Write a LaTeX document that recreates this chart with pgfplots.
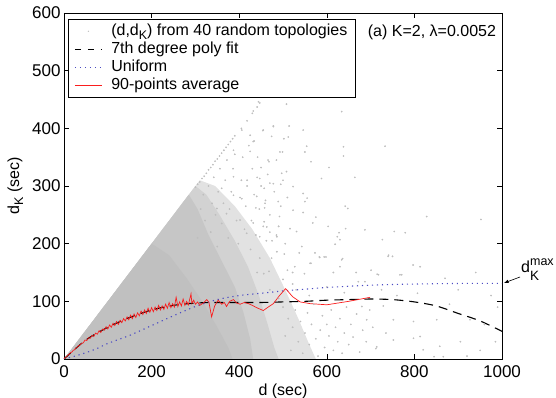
\documentclass[border=0pt]{standalone}
\usepackage{fontspec}
\setmainfont{Liberation Sans}
\usepackage{pgfplots}
\pgfplotsset{compat=1.18}
\definecolor{scgray}{RGB}{190,190,190}
\definecolor{gA}{RGB}{192,192,192}
\definecolor{gB}{RGB}{198,198,198}
\definecolor{gC}{RGB}{210,210,210}
\definecolor{gD}{RGB}{226,226,226}
\definecolor{unifblue}{RGB}{75,75,195}
\definecolor{avgred}{RGB}{250,30,30}
\newcommand{\subK}{\raisebox{-4pt}{\fontsize{12.5}{12.5}\selectfont K}}
\begin{document}
\fontsize{16}{19}\selectfont
\begin{tikzpicture}
\begin{axis}[name=ax, scale only axis, width=438pt, height=346pt,
  xmin=0, xmax=1000, ymin=0, ymax=600,
  xtick={0,200,...,1000}, ytick={0,100,...,600},
  tick align=inside, tick pos=both, major tick length=5pt,
  axis line style={line width=0.8pt}, tick style={line width=0.6pt, black},
  /pgf/number format/assume math mode=true,
  /pgf/number format/1000 sep={},
  tick label style={font=\fontsize{17}{20}\selectfont},
  xticklabel style={yshift=-1pt},
  yticklabel style={xshift=2pt},
  xlabel={d (sec)}, ylabel={d\subK{} (sec)},
  label style={font=\fontsize{16}{19}\selectfont},
  xlabel style={yshift=5pt}, ylabel style={yshift=-2pt},
  legend cell align=left,
  legend style={at={(0.009,0.983)}, anchor=north west, draw=black, line width=0.8pt,
    inner xsep=6pt, inner ysep=3pt, row sep=0pt,
    font=\fontsize{16}{19.5}\selectfont},
]
% legend
\addlegendimage{legend image code/.code={\fill[fill=scgray, draw=none] (13.5pt,0pt) circle (0.65pt); \path (0pt,0pt) (34pt,0pt);}}
\addlegendentry{(d,d\subK) from 40 random topologies}
\addlegendimage{legend image code/.code={\draw[draw=black, line width=1.1pt, dash pattern=on 6pt off 7pt] (0pt,0pt) -- (27pt,0pt); \path (34pt,0pt);}}
\addlegendentry{7th degree poly fit}
\addlegendimage{legend image code/.code={\draw[draw=unifblue, line width=1.1pt, dash pattern=on 1.2pt off 3.8pt] (0pt,0pt) -- (27pt,0pt); \path (34pt,0pt);}}
\addlegendentry{Uniform}
\addlegendimage{legend image code/.code={\draw[draw=avgred, line width=0.7pt] (0pt,0pt) -- (27pt,0pt); \path (34pt,0pt);}}
\addlegendentry{90-points average}
% density of the overlapping scatter (many thousands of points)
\addplot[fill=gD, draw=none, forget plot] coordinates {(0,0) (310,310) (345,300) (390,265) (430,225) (470,175) (505,120) (535,70) (560,25) (575,0)} \closedcycle;
\addplot[fill=gC, draw=none, forget plot] coordinates {(0,0) (300,300) (325,285) (355,250) (390,205) (420,160) (445,110) (465,60) (480,20) (490,0)} \closedcycle;
\addplot[fill=gB, draw=none, forget plot] coordinates {(0,0) (285,285) (305,260) (330,215) (360,170) (390,125) (410,80) (425,35) (432,0)} \closedcycle;
\addplot[fill=gA, draw=none, forget plot] coordinates {(0,0) (200,200) (240,180) (280,140) (320,95) (350,55) (375,20) (385,0)} \closedcycle;
% scattered points
\addplot[only marks, mark=*, mark size=0.65pt, color=scgray, forget plot]
coordinates {
(300,298) (305,303) (310,307) (315,313) (320,317) (325,322) (330,328) (335,332) (340,337) (345,343) (350,347) (355,352)
(360,357) (365,362) (370,367) (375,372) (380,377) (385,382) (390,387) (405,400) (418,413) (430,426) (441,437) (447,444)
(406,397) (425,388) (455,397) (478,403) (432,377) (387,362) (425,360) (466,345) (493,359) (387,316) (418,310) (447,313)
(478,304) (523,299) (360,296) (387,284) (406,278) (440,282) (459,270) (489,273) (523,258) (546,254) (349,261) (371,252)
(402,241) (432,236) (463,229) (486,212) (531,221) (417,218) (447,212)
(305,210) (312,260) (318,285) (322,240) (330,300) (335,220) (338,270) (342,315) (346,250) (350,195) (352,290) (356,330)
(360,235) (364,270) (368,310) (372,345) (375,210) (378,260) (382,290) (386,330) (390,355) (394,240) (398,200) (402,280)
(405,310) (408,350) (412,225) (415,265) (418,300) (422,370) (426,190) (428,240) (430,330) (434,285) (438,215) (442,350)
(446,260) (450,300) (455,230) (460,275) (465,320) (470,250) (475,205) (480,290) (485,345) (490,230) (495,265) (500,310)
(505,200) (510,280)
(444,446) (508,442) (432,430) (634,429) (478,404) (514,404) (454,396) (546,397) (474,386) (502,382) (512,385) (434,378)
(554,369) (733,369) (638,368) (499,359) (550,359) (638,352) (468,342) (564,342) (605,332) (450,332) (508,325) (497,322)
(588,313) (664,315) (441,315) (470,305) (457,296) (495,303) (546,287) (555,279) (550,273) (642,265) (648,261) (438,262)
(458,262) (575,246) (492,247)
(516,226) (568,236) (603,230) (643,226) (628,219) (624,212) (630,207) (543,195) (537,184) (583,177) (594,177) (564,166)
(527,160) (510,154) (474,175) (486,186) (503,182) (447,175) (634,172) (630,160) (615,150) (667,150) (718,146) (441,150)
(456,148) (468,152) (522,150) (549,148) (500,138) (522,130) (687,134) (457,238) (470,220) (485,215) (462,205) (490,230)
(619,199) (573,184) (598,177) (584,176) (636,174) (562,166) (530,120) (560,110) (600,125) (640,115) (470,120) (490,105)
(500,90) (505,40) (512,70) (518,15) (522,55) (528,85) (535,30) (540,65) (545,10) (550,45) (556,80) (560,25) (565,60)
(570,95) (575,35) (580,5) (585,50) (590,75) (595,20) (600,60) (605,40) (610,85) (615,15) (620,55) (625,30) (630,70)
(635,10) (640,45) (645,90) (650,25) (655,60) (660,38) (668,78) (675,12) (682,50) (690,30) (698,85) (705,55) (712,18)
(680,91) (729,92) (691,68) (752,68) (798,65) (851,68) (927,68) (752,33) (714,21) (798,36) (813,39) (858,22) (866,4)
(820,16) (845,4) (920,5) (740,178) (797,163) (813,160) (767,146) (672,134) (701,154) (715,147) (741,180) (750,178)
(771,146) (807,114) (828,247) (952,242) (754,221) (779,219) (727,207) (687,224) (960,60) (985,30) (900,120) (880,95)
(940,150) (975,110) (760,110) (735,45) (870,140) (905,30) (950,15) (990,90) (725,120)
};
% 7th degree poly fit
\addplot[black, line width=1.1pt, dash pattern=on 9pt off 6pt, smooth, forget plot]
coordinates {(0,0) (50,33) (100,55) (150,72) (200,85) (250,93) (300,97) (350,98) (400,98) (450,98) (500,99) (550,100) (600,102) (650,103) (700,104) (750,103) (800,99) (850,92) (900,79) (950,66) (1000,48)};
% Uniform
\addplot[unifblue, line width=1.1pt, dash pattern=on 1.2pt off 3.8pt, smooth, forget plot]
coordinates {(0,0) (25,5) (50,11) (75,18) (100,27) (150,41) (200,58) (250,75) (300,91) (350,103) (400,110) (450,114) (500,118) (550,121) (600,124) (700,128) (800,130) (900,131) (1000,131)};
% 90-points average
\addplot[avgred, line width=0.7pt, forget plot]
coordinates {(0,0) (3,3) (6,4) (9,7) (12,8) (15,11) (18,12) (21,15) (24,16) (27,19) (30,20) (33,23) (36,24) (40,27) (44,28) (48,33) (52,32) (56,37) (60,36) (64,41) (68,39) (72,45) (76,43) (80,49) (84,46) (88,52) (92,50) (96,56) (100,52) (104,59) (108,55) (112,62) (116,58) (120,65) (124,60) (128,67) (132,63) (136,70) (140,66) (144,73) (148,68) (152,76) (156,70) (160,78) (164,72) (168,80) (172,75) (176,83) (180,77) (184,85) (188,79) (192,88) (196,81) (200,89) (204,82) (208,90) (212,84) (216,93) (220,85) (224,92) (228,86) (232,95) (236,88) (240,98) (244,89) (248,96) (252,90) (256,107) (260,91) (264,99) (268,92) (272,104) (276,93) (280,100) (284,94) (290,113) (292,96) (296,102) (300,95) (305,99) (310,93) (318,97) (326,103) (331,98) (337,73) (344,92) (352,102) (360,95) (366,98) (371,91) (378,100) (387,103) (394,97) (402,95) (412,98) (421,96) (430,93) (440,89) (455,84) (466,90) (478,96) (492,110) (506,122) (522,108) (539,99) (562,96) (600,94) (650,100) (699,107)};
\node[anchor=center] at (rel axis cs:0.840,0.943) {(a) K=2, λ=0.0052};
\end{axis}
\draw[-latex, line width=0.6pt] ([shift={(456pt,82pt)}]ax.south west) -- ([shift={(440pt,76pt)}]ax.south west);
\node[anchor=base west, inner sep=0pt] at ([shift={(457pt,86pt)}]ax.south west) {d\rlap{\raisebox{7pt}{\fontsize{12.5}{12.5}\selectfont max}}\raisebox{-8pt}{\fontsize{13.5}{13.5}\selectfont K}};
\pgfresetboundingbox
\path ([shift={(-64pt,-39pt)}]ax.south west) rectangle ([shift={(54pt,13pt)}]ax.north east);
\end{tikzpicture}
\end{document}
